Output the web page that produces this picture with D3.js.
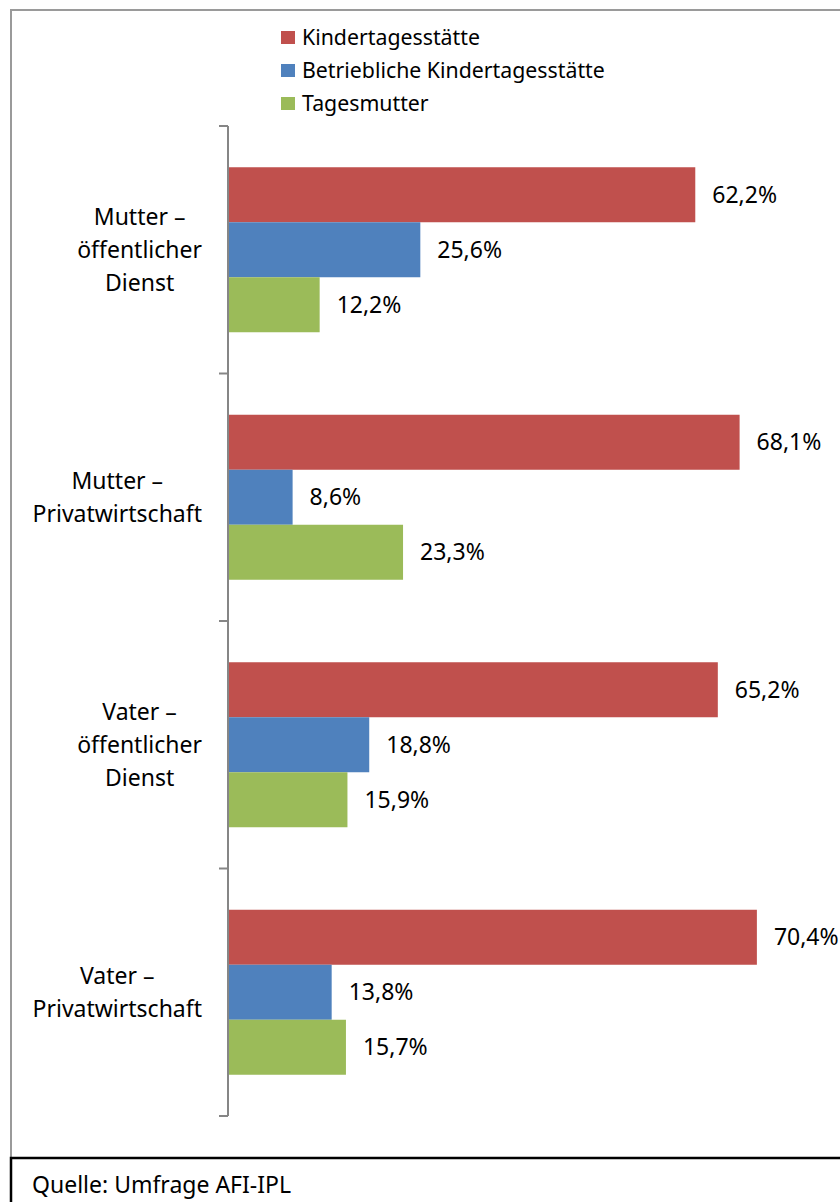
<!DOCTYPE html>
<html lang="de">
<head>
  <meta charset="UTF-8">
  <title>Kinderbetreuung</title>
  <style>
    body { margin: 0; background: #fff; }
    svg { display: block; }
    text { font-family: "Noto Sans", "Open Sans", sans-serif; fill: #000; }
  </style>
</head>
<body>
  <svg id="chart" width="840" height="1202"></svg>
  <script src="https://cdn.jsdelivr.net/npm/d3@7"></script>
  <script>
    // Data
    const categories = [
      "Mutter –\nöffentlicher\nDienst",
      "Mutter –\nPrivatwirtschaft",
      "Vater –\nöffentlicher\nDienst",
      "Vater –\nPrivatwirtschaft"
    ];
    const seriesNames = ["Kindertagesstätte", "Betriebliche Kindertagesstätte", "Tagesmutter"];
    const seriesColors = ["#C0504D", "#4F81BD", "#9BBB59"];
    const kita = [62.2, 68.1, 65.2, 70.4];
    const betriebKita = [25.6, 8.6, 18.8, 13.8];
    const tagesmutter = [12.2, 23.3, 15.9, 15.7];
    const seriesValues = [kita, betriebKita, tagesmutter];

    const svg = d3.select("#chart");
    const fontSize = 23;

    // Outer chart frame and source box
    svg.append("rect")
      .attr("x", 11).attr("y", 10)
      .attr("width", 860).attr("height", 1148)
      .attr("fill", "none").attr("stroke", "#9a9a9a").attr("stroke-width", 2);

    svg.append("rect")
      .attr("x", 11).attr("y", 1158)
      .attr("width", 860).attr("height", 80)
      .attr("fill", "#fff").attr("stroke", "#000").attr("stroke-width", 2.5);

    svg.append("text")
      .attr("x", 32).attr("y", 1193)
      .style("font-size", fontSize + "px")
      .text("Quelle: Umfrage AFI-IPL");

    // Scales
    const x = d3.scaleLinear().domain([0, 80]).range([228, 829]);
    const y0 = d3.scaleBand().domain(categories).range([126, 1116]).padding(0);
    const y1 = d3.scaleBand().domain(seriesNames).range([0, y0.bandwidth()])
      .paddingInner(0).paddingOuter(0.75);

    // Bars + labels
    const rows = [];
    categories.forEach((c, i) => {
      seriesNames.forEach((s, j) => {
        rows.push({ cat: c, series: s, color: seriesColors[j], value: seriesValues[j][i] });
      });
    });

    const g = svg.append("g");
    g.selectAll("rect.bar")
      .data(rows)
      .join("rect")
      .attr("class", "bar")
      .attr("x", x(0))
      .attr("y", d => y0(d.cat) + y1(d.series))
      .attr("width", d => x(d.value) - x(0))
      .attr("height", y1.bandwidth())
      .attr("fill", d => d.color);

    g.selectAll("text.val")
      .data(rows)
      .join("text")
      .attr("class", "val")
      .attr("x", d => x(d.value) + 17)
      .attr("y", d => y0(d.cat) + y1(d.series) + y1.bandwidth() / 2)
      .attr("dy", "0.35em")
      .style("font-size", fontSize + "px")
      .text(d => d.value.toFixed(1).replace(".", ",") + "%");

    // Category axis
    const axisColor = "#868686";
    svg.append("line")
      .attr("x1", x(0)).attr("x2", x(0))
      .attr("y1", y0.range()[0]).attr("y2", y0.range()[1])
      .attr("stroke", axisColor).attr("stroke-width", 2);

    const tickPos = categories.map(c => y0(c)).concat([y0.range()[1]]);
    svg.selectAll("line.tick")
      .data(tickPos)
      .join("line")
      .attr("class", "tick")
      .attr("x1", x(0) - 9).attr("x2", x(0))
      .attr("y1", d => d).attr("y2", d => d)
      .attr("stroke", axisColor).attr("stroke-width", 2);

    // category labels: block right-aligned near the axis, lines centered inside it
    const lineH = 33;
    const labelRight = 202;
    const catLabel = svg.selectAll("text.cat")
      .data(categories)
      .join("text")
      .attr("class", "cat")
      .attr("text-anchor", "middle")
      .style("font-size", fontSize + "px");

    catLabel.each(function(c) {
      const lines = c.split("\n");
      const cy = y0(c) + y0.bandwidth() / 2;
      const top = cy - (lines.length - 1) * lineH / 2;
      const spans = d3.select(this).selectAll("tspan")
        .data(lines)
        .join("tspan")
        .attr("y", (d, k) => top + k * lineH)
        .attr("dy", "0.35em")
        .text(d => d);
      let maxW = 0;
      spans.each(function() { maxW = Math.max(maxW, this.getComputedTextLength()); });
      spans.attr("x", labelRight - maxW / 2);
    });

    // Legend
    const legend = svg.append("g").selectAll("g")
      .data(seriesNames)
      .join("g")
      .attr("transform", (d, i) => `translate(281, ${31 + i * 33})`);

    legend.append("rect")
      .attr("width", 14).attr("height", 13)
      .attr("fill", (d, i) => seriesColors[i]);

    legend.append("text")
      .attr("x", 21).attr("y", 7)
      .attr("dy", "0.35em")
      .style("font-size", "21.3px")
      .text(d => d);
  </script>
</body>
</html>
